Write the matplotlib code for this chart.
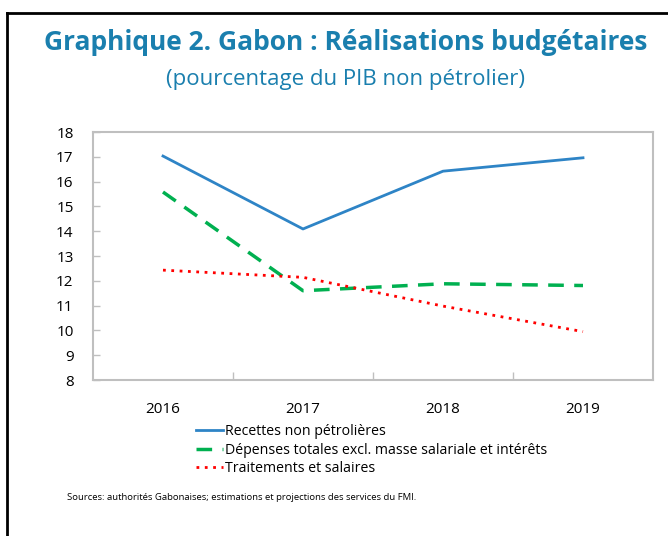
import numpy as np
import matplotlib.pyplot as plt
from matplotlib.lines import Line2D

plt.rcParams['font.family'] = ['Open Sans', 'DejaVu Sans']

# Data
years = ["2016", "2017", "2018", "2019"]
recettes = [17.03, 14.09, 16.42, 16.96]
depenses = [15.58, 11.60, 11.88, 11.81]
salaires = [12.43, 12.14, 10.98, 9.95]

labels = ["Recettes non pétrolières",
          "Dépenses totales excl. masse salariale et intérêts",
          "Traitements et salaires"]

W, H = 668, 536
fig = plt.figure(figsize=(W / 100, H / 100), dpi=100)

# Frame lines (left and top)
fig.add_artist(Line2D([7 / W, 7 / W], [0, 1 - 13 / H], color="black", lw=2, transform=fig.transFigure))
fig.add_artist(Line2D([7 / W, 1], [1 - 13 / H, 1 - 13 / H], color="black", lw=2, transform=fig.transFigure))

# Titles
title_col = "#1A7FAE"
fig.text(346 / W, 1 - 42 / H, "Graphique 2. Gabon : Réalisations budgétaires",
         ha="center", va="center", fontsize=19, fontweight="bold", color=title_col)
fig.text(345 / W, 1 - 79 / H, "(pourcentage du PIB non pétrolier)",
         ha="center", va="center", fontsize=16, color=title_col)

ax = fig.add_axes([93 / W, 1 - 380 / H, 560 / W, 248 / H])
x = np.arange(len(years))
l1, = ax.plot(x, recettes, color="#2E84C6", lw=2, label=labels[0])
l2, = ax.plot(x, depenses, color="#00B050", lw=2.5, ls=(0, (4.5, 3)), label=labels[1])
l3, = ax.plot(x, salaires, color="#FF0000", lw=2, ls=(0, (1, 2)), label=labels[2])

ax.set_xlim(-0.5, 3.5)
ax.set_ylim(8, 18)
ax.set_yticks(range(8, 19))
ax.set_xticks(x)
ax.set_xticklabels(years)
ax.set_xticks([0.5, 1.5, 2.5], minor=True)
ax.tick_params(axis="x", which="major", length=0, pad=16, labelsize=11)
ax.tick_params(axis="x", which="minor", direction="in", length=6, color="#BFBFBF", width=1)
ax.tick_params(axis="y", direction="in", length=5, color="#BFBFBF", width=1, pad=14, labelsize=11)
for s in ax.spines.values():
    s.set_color("#BFBFBF")
    s.set_linewidth(1.5)

fig.legend(handles=[l1, l2, l3], labels=labels, loc="upper left",
           bbox_to_anchor=(196 / W, 1 - 424 / H), frameon=False, fontsize=10.2,
           handlelength=1.9, handletextpad=0.15, labelspacing=0.25, borderpad=0, borderaxespad=0)

fig.text(67 / W, 1 - 498 / H,
         "Sources: authorités Gabonaises; estimations et projections des services du FMI.",
         ha="left", va="center", fontsize=6.8)

fig.savefig("out.png", dpi=100)
